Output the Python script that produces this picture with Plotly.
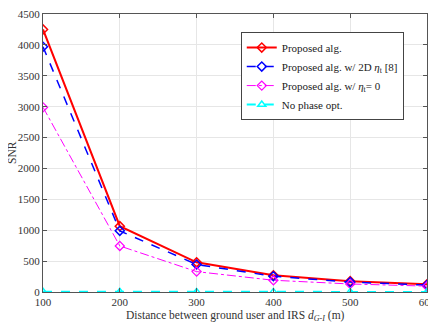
import plotly.graph_objects as go

distance = [100, 200, 300, 400, 500, 600]
snr_proposed = [4250, 1065, 480, 270, 175, 125]
snr_2d = [3970, 990, 445, 255, 160, 112]
snr_eta0 = [2990, 745, 330, 190, 130, 95]
snr_nophase = [5, 3, 2, 2, 1, 1]

x_ticks = [100, 200, 300, 400, 500, 600]
y_ticks = [0, 500, 1000, 1500, 2000, 2500, 3000, 3500, 4000, 4500]

SERIF = "Liberation Serif, Times New Roman, DejaVu Serif, serif"

fig = go.Figure()
fig.add_trace(go.Scatter(
    x=distance, y=snr_proposed, name="Proposed alg.",
    mode="lines+markers",
    line=dict(color="#ff0000", width=2),
    marker=dict(symbol="diamond-open", size=7, color="#ff0000", line=dict(width=1.5)),
))
fig.add_trace(go.Scatter(
    x=distance, y=snr_2d, name="Proposed alg. w/ 2D <i>η</i><sub>t</sub> [8]",
    mode="lines+markers",
    line=dict(color="#0000ff", width=1.5, dash="dash"),
    marker=dict(symbol="diamond-open", size=7, color="#0000ff", line=dict(width=1.5)),
))
fig.add_trace(go.Scatter(
    x=distance, y=snr_eta0, name="Proposed alg. w/ <i>η</i><sub>t</sub>= 0",
    mode="lines+markers",
    line=dict(color="#ff00ff", width=1, dash="dashdot"),
    marker=dict(symbol="diamond-open", size=7, color="#ff00ff", line=dict(width=1.2)),
))
fig.add_trace(go.Scatter(
    x=distance, y=snr_nophase, name="No phase opt.",
    mode="lines+markers",
    line=dict(color="#00ffff", width=2, dash="dash"),
    marker=dict(symbol="triangle-up-open", size=7, color="#00ffff", line=dict(width=1.5)),
))

axis_common = dict(
    showline=True, linecolor="#555555", linewidth=1, mirror="ticks",
    ticks="inside", ticklen=4, tickcolor="#555555",
    showgrid=True, gridcolor="#e6e6e6", gridwidth=1, zeroline=False,
    tickfont=dict(family=SERIF, size=11, color="#333333"),
    ticklabeloverflow="allow",
    automargin=False,
)

fig.update_xaxes(range=[100, 600], tickvals=x_ticks, **axis_common)
fig.update_yaxes(range=[0, 4500], tickvals=y_ticks, **axis_common)

# axis titles as annotations so they sit where the reference has them
fig.add_annotation(
    text="Distance between ground user and IRS <i>d</i><sub><i>G-I</i></sub> (m)",
    xref="paper", yref="paper", x=0.5, y=0, xanchor="center", yanchor="middle",
    yshift=-24, showarrow=False,
    font=dict(family=SERIF, size=11.5, color="#333333"),
)
fig.add_annotation(
    text="SNR", textangle=-90,
    xref="paper", yref="paper", x=0, y=0.5, xanchor="center", yanchor="middle",
    xshift=-31, showarrow=False,
    font=dict(family=SERIF, size=11.5, color="#333333"),
)

# page has an 8px body margin, so the figure is shrunk by that much
fig.update_layout(
    width=428, height=324,
    margin=dict(l=35, r=9, t=6, b=40, autoexpand=False),
    paper_bgcolor="white", plot_bgcolor="white",
    font=dict(family=SERIF, size=11, color="#222222"),
    legend=dict(
        x=0.515, y=0.935, xanchor="left", yanchor="top",
        bgcolor="white", bordercolor="#444444", borderwidth=1,
        font=dict(family=SERIF, size=11, color="#222222"),
        tracegroupgap=0, itemwidth=30,
    ),
)

fig.write_html("out.html")
